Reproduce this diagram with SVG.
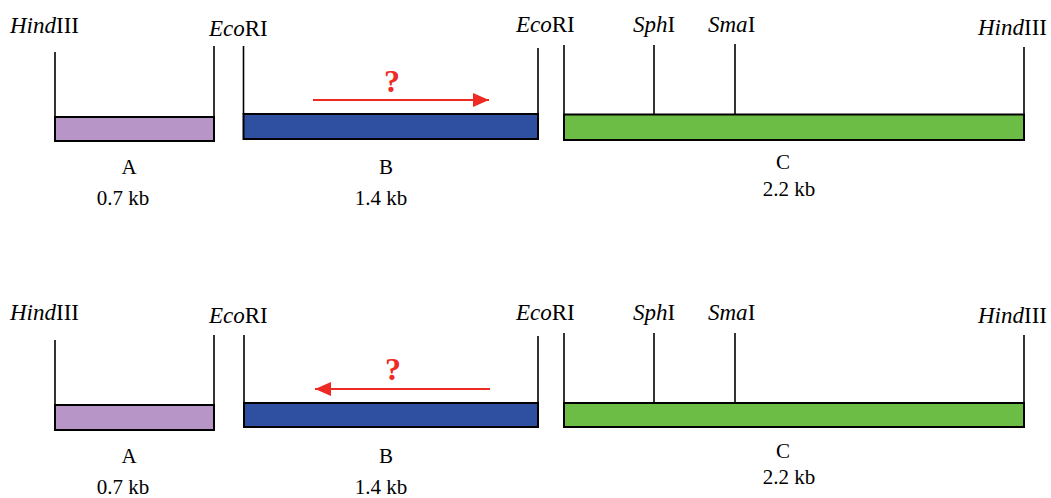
<svg xmlns="http://www.w3.org/2000/svg" width="1051" height="498" viewBox="0 0 1051 498">
  <style>
    .site { font-family: "Liberation Serif", "Times New Roman", serif; font-size: 23px; fill: #000; }
    .site .it { font-style: italic; }
    .lbl { font-family: "Liberation Serif", "Times New Roman", serif; font-size: 21px; fill: #000; text-anchor: middle; }
    .q { font-family: "Liberation Serif", "Times New Roman", serif; font-size: 32px; font-weight: bold; fill: #ee2a24; text-anchor: middle; }
    .tick { stroke: #000; stroke-width: 1.6; fill: none; }
    .frag { stroke: #000; stroke-width: 2; }
    .fa { fill: #b795c6; }
    .fb { fill: #2f4fa0; }
    .fc { fill: #6cbd45; }
    .dir { stroke: #ee2a24; stroke-width: 2; fill: none; }
  </style>
  <defs>
    <marker id="head" viewBox="0 0 16 14" refX="16" refY="7" markerWidth="16" markerHeight="14" markerUnits="userSpaceOnUse" orient="auto">
      <path d="M0,0 L16,7 L0,14 Z" fill="#ee2a24"/>
    </marker>
  </defs>

  <!-- Upper map: fragment B in forward orientation -->
  <g id="top-fragment-A">
    <line class="tick" x1="55" y1="52" x2="55" y2="117"/>
    <line class="tick" x1="214" y1="46" x2="214" y2="117"/>
    <rect class="frag fa" x="55" y="117" width="159" height="24"/>
    <text class="site" x="10" y="33"><tspan class="it">Hind</tspan>III</text>
    <text class="site" x="209" y="36"><tspan class="it">Eco</tspan>RI</text>
    <text class="lbl" x="129" y="174">A</text>
    <text class="lbl" x="123" y="205">0.7 kb</text>
  </g>
  <g id="top-fragment-B">
    <line class="tick" x1="243.5" y1="46" x2="243.5" y2="114"/>
    <line class="tick" x1="538" y1="48" x2="538" y2="114"/>
    <rect class="frag fb" x="243.5" y="114" width="294.5" height="25"/>
    <text class="site" x="516" y="32"><tspan class="it">Eco</tspan>RI</text>
    <text class="lbl" x="386" y="174">B</text>
    <text class="lbl" x="381" y="205">1.4 kb</text>
  </g>
  <g id="top-fragment-C">
    <line class="tick" x1="564" y1="45" x2="564" y2="114"/>
    <line class="tick" x1="654" y1="45" x2="654" y2="114"/>
    <line class="tick" x1="735" y1="44" x2="735" y2="114"/>
    <line class="tick" x1="1024" y1="47" x2="1024" y2="114"/>
    <rect class="frag fc" x="564" y="114.5" width="460" height="25.5"/>
    <text class="site" x="633" y="32"><tspan class="it">Sph</tspan>I</text>
    <text class="site" x="708" y="32"><tspan class="it">Sma</tspan>I</text>
    <text class="site" x="978" y="35"><tspan class="it">Hind</tspan>III</text>
    <text class="lbl" x="783" y="169">C</text>
    <text class="lbl" x="789" y="196">2.2 kb</text>
  </g>

  <!-- Lower map: fragment B in reverse orientation -->
  <g id="bottom-fragment-A">
    <line class="tick" x1="55" y1="340" x2="55" y2="405"/>
    <line class="tick" x1="214" y1="335" x2="214" y2="405"/>
    <rect class="frag fa" x="55" y="405" width="159" height="25"/>
    <text class="site" x="10" y="320"><tspan class="it">Hind</tspan>III</text>
    <text class="site" x="209" y="323"><tspan class="it">Eco</tspan>RI</text>
    <text class="lbl" x="129" y="463">A</text>
    <text class="lbl" x="123" y="494">0.7 kb</text>
  </g>
  <g id="bottom-fragment-B">
    <line class="tick" x1="244" y1="335" x2="244" y2="403"/>
    <line class="tick" x1="538" y1="336" x2="538" y2="403"/>
    <rect class="frag fb" x="244" y="403" width="294" height="24"/>
    <text class="site" x="516" y="320"><tspan class="it">Eco</tspan>RI</text>
    <text class="lbl" x="386" y="463">B</text>
    <text class="lbl" x="381" y="494">1.4 kb</text>
  </g>
  <g id="bottom-fragment-C">
    <line class="tick" x1="564" y1="333" x2="564" y2="403"/>
    <line class="tick" x1="654" y1="333" x2="654" y2="403"/>
    <line class="tick" x1="735" y1="333" x2="735" y2="403"/>
    <line class="tick" x1="1024" y1="335" x2="1024" y2="403"/>
    <rect class="frag fc" x="564" y="403" width="460" height="24"/>
    <text class="site" x="633" y="320"><tspan class="it">Sph</tspan>I</text>
    <text class="site" x="708" y="320"><tspan class="it">Sma</tspan>I</text>
    <text class="site" x="978" y="323"><tspan class="it">Hind</tspan>III</text>
    <text class="lbl" x="783" y="458">C</text>
    <text class="lbl" x="789" y="484">2.2 kb</text>
  </g>

  <!-- Orientation arrows over fragment B -->
  <g id="connectors">
    <line class="dir" x1="313" y1="100" x2="489" y2="100" marker-end="url(#head)"/>
    <text class="q" x="392" y="92">?</text>
    <line class="dir" x1="490" y1="389" x2="315" y2="389" marker-end="url(#head)"/>
    <text class="q" x="393" y="380">?</text>
  </g>
</svg>
